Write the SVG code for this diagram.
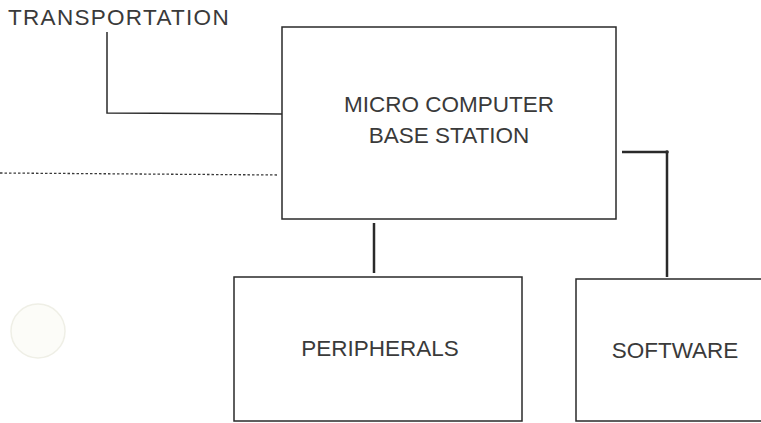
<svg xmlns="http://www.w3.org/2000/svg" width="761" height="423" viewBox="0 0 761 423">
<style>
.box{fill:none;stroke:#2a2a2a;stroke-width:1.5}
.lbl{font-family:"Liberation Sans",Arial,sans-serif;font-size:22.5px;fill:#3a3a3a;text-anchor:middle}
.ln{fill:none;stroke:#2a2a2a;stroke-width:1.5}
.thick{fill:none;stroke:#2a2a2a;stroke-width:2.5}
</style>
<rect width="761" height="423" fill="#ffffff"/>
<circle cx="38" cy="331" r="27" fill="#fcfcf8" stroke="#efefe6" stroke-width="1.5"/>
<g id="connectors">
<polyline class="ln" points="107,32 107,113 282,114"/>
<line x1="0" y1="173" x2="279" y2="175" stroke="#3a3a3a" stroke-width="1.3" stroke-dasharray="2.5,2"/>
<polyline class="thick" points="622,152 667,152 667,277"/>
<circle cx="667" cy="152" r="1.8" fill="#2a2a2a"/>
<line class="thick" x1="374" y1="223" x2="374" y2="273"/>
</g>
<g id="transportation">
<text x="8" y="25" font-family="'Liberation Sans',Arial,sans-serif" font-size="22.5" fill="#3a3a3a" letter-spacing="1.3">TRANSPORTATION</text>
</g>
<g id="base-station">
<rect class="box" x="282" y="27" width="334" height="192"/>
<text class="lbl" x="449" y="112">MICRO COMPUTER</text>
<text class="lbl" x="449" y="143">BASE STATION</text>
</g>
<g id="peripherals">
<rect class="box" x="234" y="277" width="288" height="144"/>
<text class="lbl" x="380" y="356">PERIPHERALS</text>
</g>
<g id="software">
<rect class="box" x="576" y="279" width="190" height="142"/>
<text class="lbl" x="675" y="358">SOFTWARE</text>
</g>
</svg>
